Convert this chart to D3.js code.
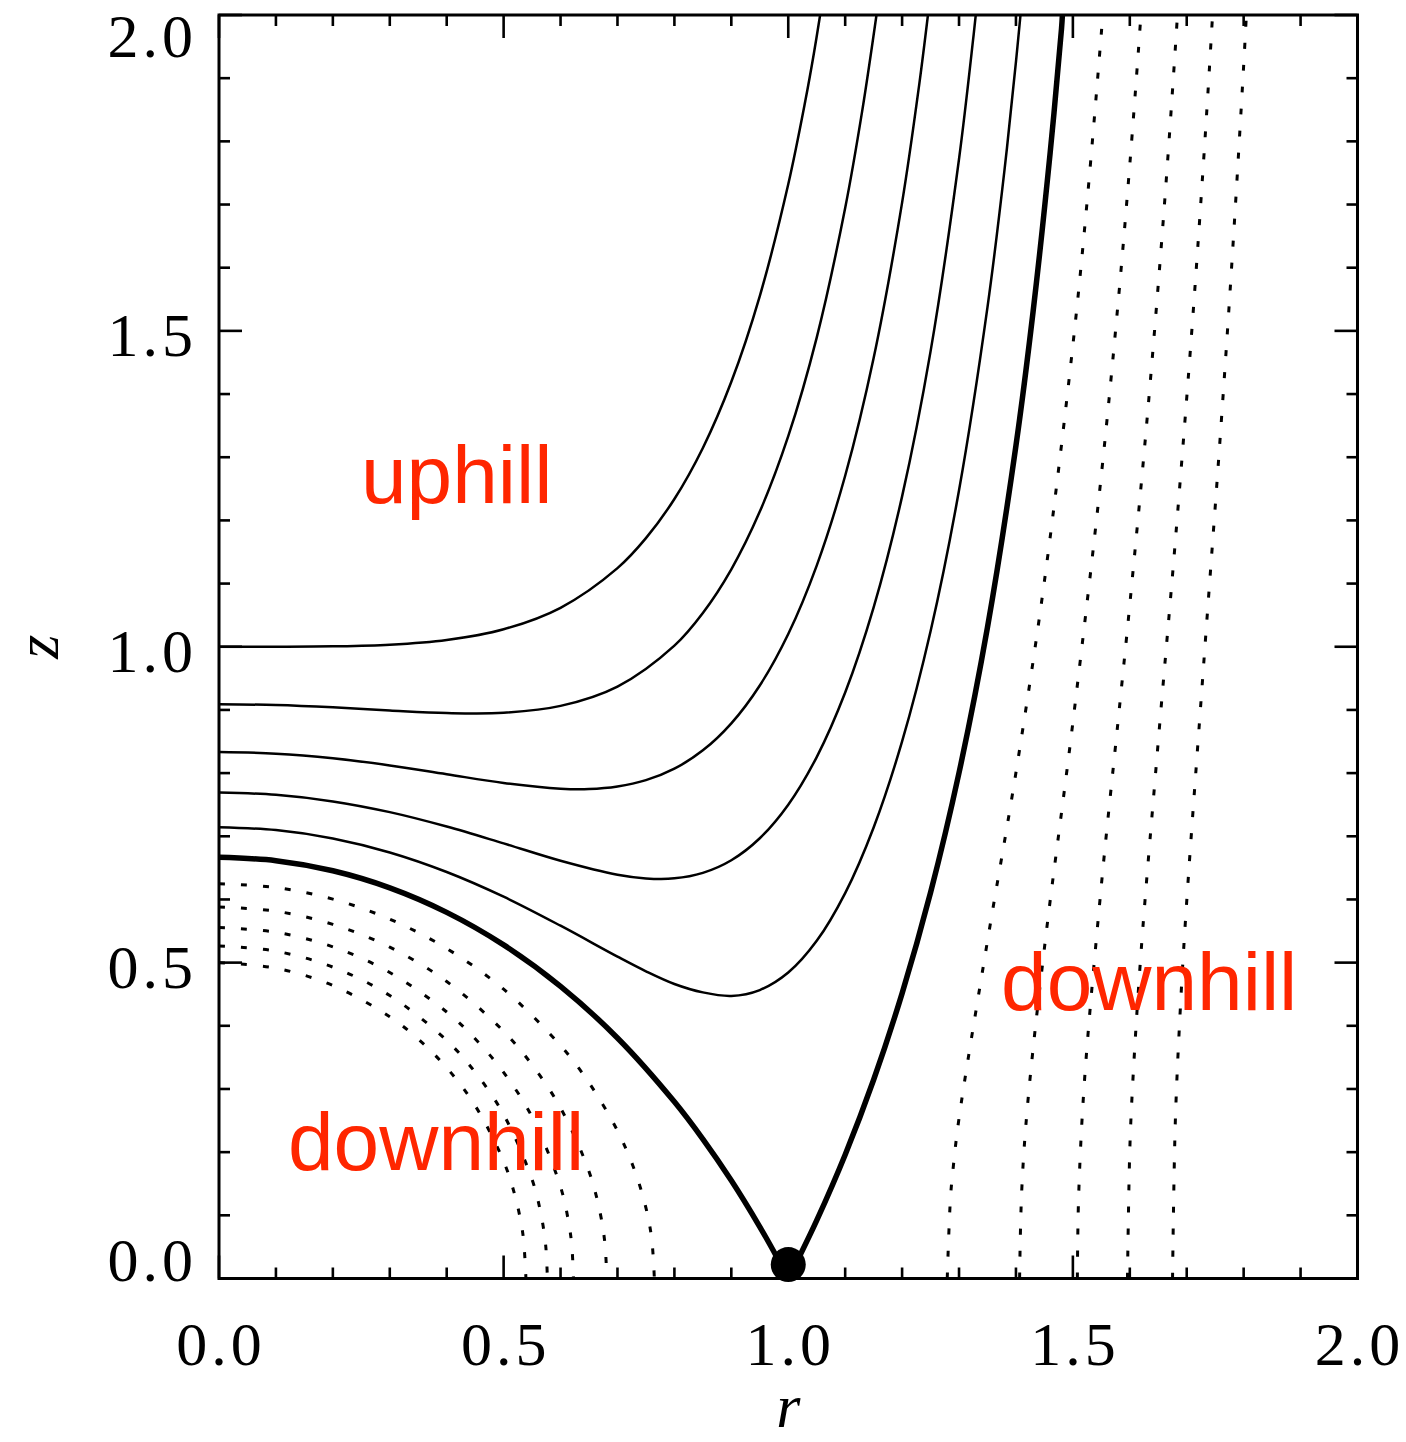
<!DOCTYPE html>
<html>
<head>
<meta charset="utf-8">
<script src="https://cdn.jsdelivr.net/npm/d3@7"></script>
<style>
  html, body { margin: 0; padding: 0; background: #ffffff; }
  svg { display: block; }
</style>
</head>
<body>
<svg id="chart" width="1406" height="1442"></svg>
<script>
// ---- data: contour lines of the potential, [r, z] points ----
const contourLevels = [-1.0, -1.1, -1.2, -1.3, -1.4, -1.5, -1.6, -1.7, -1.8, -1.9, -2.0];

const solid_m10 = [[0,1.0],[0.1,1.0000],[0.2,1.0006],[0.3,1.0032],[0.4,1.0107],[0.5,1.0277],[0.6,1.0617],[0.7,1.1244],[0.75,1.1719],[0.8,1.2339],[0.85,1.3147],[0.9,1.4194],[0.95,1.5551],[1.0,1.7321],[1.03,1.8641],[1.045,1.9390],[1.056,2.0]];
const solid_m11 = [[0,0.9091],[0.1,0.9077],[0.2,0.9041],[0.3,0.8991],[0.4,0.8951],[0.5,0.8955],[0.6,0.9064],[0.7,0.9370],[0.8,1.0018],[0.85,1.0535],[0.9,1.1226],[0.95,1.2139],[1.0,1.3333],[1.05,1.4894],[1.1,1.6945],[1.13,1.8486],[1.155,2.0]];
const solid_m12 = [[0,0.8333],[0.1,0.8308],[0.2,0.8235],[0.3,0.8122],[0.4,0.7982],[0.5,0.7844],[0.6,0.7754],[0.65,0.7748],[0.7,0.7788],[0.75,0.7888],[0.8,0.8070],[0.85,0.8360],[0.9,0.8788],[0.95,0.9387],[1.0,1.0202],[1.05,1.1285],[1.1,1.2707],[1.15,1.4570],[1.2,1.7030],[1.23,1.8895],[1.2454,2.0]];
const solid_m13 = [[0,0.7692],[0.1,0.7657],[0.2,0.7552],[0.3,0.7382],[0.4,0.7154],[0.5,0.6887],[0.6,0.6612],[0.7,0.6391],[0.75,0.6333],[0.8,0.6334],[0.85,0.6421],[0.9,0.6621],[0.95,0.6969],[1.0,0.75],[1.05,0.8254],[1.1,0.9275],[1.15,1.0623],[1.2,1.2380],[1.25,1.4675],[1.3,1.7721],[1.325,1.9633],[1.3294,2.0]];
const solid_m14 = [[0,0.7143],[0.1,0.7098],[0.2,0.6965],[0.3,0.6743],[0.4,0.6434],[0.5,0.6043],[0.6,0.5584],[0.7,0.5095],[0.75,0.4863],[0.8,0.4662],[0.85,0.4529],[0.9,0.4473],[0.95,0.4566],[1.0,0.4843],[1.05,0.5345],[1.1,0.6101],[1.15,0.7140],[1.2,0.8501],[1.25,1.0244],[1.3,1.2476],[1.35,1.5375],[1.38,1.7557],[1.4,1.9259],[1.408,2.0]];

// critical (separatrix) contour through the saddle, level -1.5
const critical_left  = [[0,0.6667],[0.1,0.6614],[0.2,0.6454],[0.3,0.6184],[0.4,0.5796],[0.5,0.5281],[0.6,0.4625],[0.7,0.3807],[0.8,0.2796],[0.85,0.2206],[0.9,0.1550],[0.95,0.0818],[0.98,0.0339],[1.0,0]];
const critical_right = [[1.0,0],[1.02,0.0355],[1.05,0.0919],[1.1,0.1960],[1.15,0.3146],[1.2,0.4513],[1.25,0.6109],[1.3,0.8005],[1.35,1.0308],[1.4,1.3184],[1.43,1.5297],[1.46,1.7812],[1.48,1.9779],[1.4816,2.0]];

// dotted contours (levels -1.6 ... -2.0), inner branch around the origin
const dotted_inner_m16 = [[0,0.625],[0.1,0.6189],[0.2,0.6005],[0.3,0.5688],[0.4,0.5223],[0.5,0.4579],[0.6,0.3687],[0.65,0.3098],[0.7,0.2338],[0.73,0.1715],[0.75,0.1118],[0.76,0.0637],[0.7648,0]];
const dotted_inner_m17 = [[0,0.5882],[0.1,0.5814],[0.2,0.5606],[0.3,0.5245],[0.4,0.4701],[0.5,0.3913],[0.55,0.3382],[0.6,0.2699],[0.65,0.1694],[0.67,0.1019],[0.678,0.0547],[0.6812,0]];
const dotted_inner_m18 = [[0,0.5556],[0.1,0.5481],[0.2,0.5250],[0.3,0.4844],[0.4,0.4219],[0.45,0.3795],[0.5,0.3262],[0.55,0.2557],[0.6,0.1451],[0.615,0.0845],[0.62,0.0494],[0.6226,0]];
const dotted_inner_m19 = [[0,0.5263],[0.1,0.5181],[0.2,0.4929],[0.3,0.4479],[0.4,0.3767],[0.45,0.3265],[0.5,0.2596],[0.55,0.1565],[0.565,0.1045],[0.574,0.0512],[0.5768,0]];
const dotted_inner_m20 = [[0,0.5],[0.1,0.4912],[0.2,0.4638],[0.3,0.4143],[0.35,0.3789],[0.4,0.3336],[0.45,0.2736],[0.5,0.1856],[0.52,0.1310],[0.53,0.0911],[0.535,0.0616],[0.5392,0]];

// dotted contours, outer branch
const dotted_outer_m16 = [[1.2793,0],[1.285,0.1278],[1.29,0.1776],[1.3,0.2536],[1.35,0.5344],[1.4,0.8009],[1.45,1.1038],[1.5,1.4772],[1.525,1.7048],[1.55,1.9715],[1.5524,2.0]];
const dotted_outer_m17 = [[1.4064,0],[1.41,0.1359],[1.42,0.2704],[1.45,0.5230],[1.5,0.8801],[1.55,1.2718],[1.58,1.5500],[1.6,1.7632],[1.615,1.9422],[1.6195,2.0]];
const dotted_outer_m18 = [[1.5079,0],[1.51,0.1262],[1.52,0.3079],[1.55,0.6220],[1.58,0.8876],[1.6,1.0669],[1.63,1.3566],[1.66,1.6895],[1.68,1.9475],[1.6837,2.0]];
const dotted_outer_m19 = [[1.5959,0],[1.6,0.2036],[1.605,0.3066],[1.62,0.5195],[1.65,0.8502],[1.68,1.1675],[1.71,1.5132],[1.73,1.7742],[1.74,1.9176],[1.7454,2.0]];
const dotted_outer_m20 = [[1.6751,0],[1.68,0.2491],[1.69,0.4481],[1.7,0.5971],[1.73,0.9751],[1.76,1.3470],[1.78,1.6173],[1.8,1.9197],[1.8048,2.0]];

// saddle point
const saddlePoint = [[1.0, 0.022]];

// axes
const xDomain = [0, 2];
const yDomain = [0, 2];
const majorTicks = [0, 0.5, 1.0, 1.5, 2.0];
const majorTickLabels = ["0.0", "0.5", "1.0", "1.5", "2.0"];
const minorTicks = [0.1, 0.2, 0.3, 0.4, 0.6, 0.7, 0.8, 0.9, 1.1, 1.2, 1.3, 1.4, 1.6, 1.7, 1.8, 1.9];
const xTitle = "r";
const yTitle = "z";

// region annotations
const regionLabels = ["uphill", "downhill", "downhill"];
const regionLabelR = [0.2494, 0.1212, 1.3738];
const regionLabelZ = [1.2273, 0.171, 0.4244];

// ---- drawing ----
const svg = d3.select("#chart");
const L = 219, R = 1357.5, T = 15, B = 1278.5;
const x = d3.scaleLinear().domain(xDomain).range([L, R]);
const y = d3.scaleLinear().domain(yDomain).range([B, T]);

svg.append("defs").append("clipPath").attr("id", "plotclip")
  .append("rect").attr("x", L).attr("y", T).attr("width", R - L).attr("height", B - T);

const line = d3.line()
  .x(d => x(d[0])).y(d => y(d[1]))
  .curve(d3.curveCatmullRom.alpha(0.5));

const g = svg.append("g").attr("clip-path", "url(#plotclip)");

const solidCurves = [solid_m10, solid_m11, solid_m12, solid_m13, solid_m14];
const criticalCurves = [critical_left, critical_right];
const dottedCurves = [dotted_inner_m16, dotted_inner_m17, dotted_inner_m18, dotted_inner_m19, dotted_inner_m20,
                      dotted_outer_m16, dotted_outer_m17, dotted_outer_m18, dotted_outer_m19, dotted_outer_m20];

g.selectAll("path.dotted").data(dottedCurves).join("path")
  .attr("class", "dotted")
  .attr("d", line)
  .attr("fill", "none").attr("stroke", "#000")
  .attr("stroke-width", 3)
  .attr("stroke-dasharray", "6 16");

g.selectAll("path.solid").data(solidCurves).join("path")
  .attr("class", "solid")
  .attr("d", line)
  .attr("fill", "none").attr("stroke", "#000")
  .attr("stroke-width", 2.5);

g.selectAll("path.critical").data(criticalCurves).join("path")
  .attr("class", "critical")
  .attr("d", line)
  .attr("fill", "none").attr("stroke", "#000")
  .attr("stroke-width", 5.5)
  .attr("stroke-linejoin", "round");

// ticks
const tickG = svg.append("g").attr("stroke", "#000").attr("stroke-width", 2.6);
const majLen = 23, minLen = 11;
const allTicks = majorTicks.map(v => ({v, len: majLen})).concat(minorTicks.map(v => ({v, len: minLen})));
tickG.selectAll("line.bx").data(allTicks).join("line").attr("class", "bx")
  .attr("x1", d => x(d.v)).attr("x2", d => x(d.v)).attr("y1", B).attr("y2", d => B - d.len);
tickG.selectAll("line.tx").data(allTicks).join("line").attr("class", "tx")
  .attr("x1", d => x(d.v)).attr("x2", d => x(d.v)).attr("y1", T).attr("y2", d => T + d.len);
tickG.selectAll("line.ly").data(allTicks).join("line").attr("class", "ly")
  .attr("y1", d => y(d.v)).attr("y2", d => y(d.v)).attr("x1", L).attr("x2", d => L + d.len);
tickG.selectAll("line.ry").data(allTicks).join("line").attr("class", "ry")
  .attr("y1", d => y(d.v)).attr("y2", d => y(d.v)).attr("x1", R).attr("x2", d => R - d.len);

// frame
svg.append("rect").attr("x", L).attr("y", T).attr("width", R - L).attr("height", B - T)
  .attr("fill", "none").attr("stroke", "#000").attr("stroke-width", 3);

// saddle point
svg.selectAll("circle.sp").data(saddlePoint).join("circle").attr("class", "sp")
  .attr("cx", d => x(d[0])).attr("cy", d => y(d[1])).attr("r", 17.5).attr("fill", "#000");

// tick labels
const tickFont = "'Liberation Serif', 'DejaVu Serif', serif";
const ls = 4;
svg.selectAll("text.xl").data(majorTicks).join("text").attr("class", "xl")
  .attr("x", d => x(d) + ls / 2).attr("y", 1365)
  .attr("text-anchor", "middle")
  .attr("font-family", tickFont).attr("font-size", 62)
  .attr("letter-spacing", ls + "px")
  .attr("fill", "#000")
  .text((d, i) => majorTickLabels[i]);

svg.selectAll("text.yl").data(majorTicks).join("text").attr("class", "yl")
  .attr("x", 193 + ls).attr("y", d => Math.max(T + 42, Math.min(B + 2, y(d) + 25)))
  .attr("text-anchor", "end")
  .attr("font-family", tickFont).attr("font-size", 62)
  .attr("letter-spacing", ls + "px")
  .attr("fill", "#000")
  .text((d, i) => majorTickLabels[i]);

// axis titles
svg.append("text").attr("x", x(1.0)).attr("y", 1427)
  .attr("text-anchor", "middle")
  .attr("font-family", tickFont).attr("font-style", "italic").attr("font-size", 62)
  .text(xTitle);
svg.append("text").attr("transform", `translate(58, ${y(1.0)}) rotate(-90)`)
  .attr("text-anchor", "middle")
  .attr("font-family", tickFont).attr("font-style", "italic").attr("font-size", 62)
  .text(yTitle);

// region labels
svg.selectAll("text.region").data(regionLabels).join("text").attr("class", "region")
  .attr("x", (d, i) => x(regionLabelR[i])).attr("y", (d, i) => y(regionLabelZ[i]))
  .attr("font-family", "'Liberation Sans', Arial, Helvetica, sans-serif")
  .attr("font-size", 82)
  .attr("fill", "#ff2600")
  .text(d => d);
</script>
</body>
</html>
